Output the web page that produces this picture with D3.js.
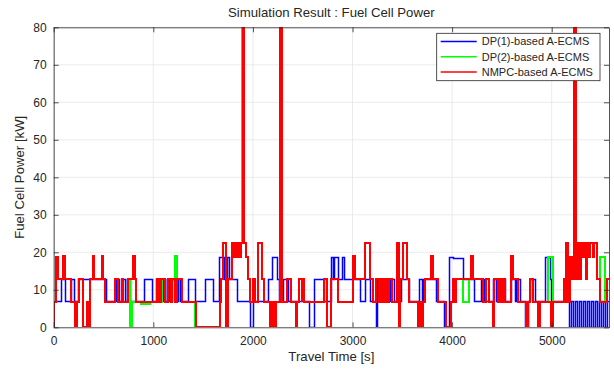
<!DOCTYPE html>
<html>
<head>
<meta charset="utf-8">
<script src="https://cdn.jsdelivr.net/npm/d3@7"></script>
<style>
  body { margin: 0; background: #fff; }
  svg text { font-family: "Liberation Sans", Arial, Helvetica, sans-serif; fill: #262626; }
</style>
</head>
<body>
<svg id="chart" width="614" height="371"></svg>
<script>
// Fuel cell power traces: [time s, power kW], each value held until the next time.
const dp1Steps = [[0,7],[70,12.8],[110,7],[170,12.8],[205,7],[240,12.8],[525,7],[625,12.8],[653,7],[685,12.8],[720,7],[735,12.8],[767,7],[910,12.8],[985,7],[1028,12.8],[1065,7],[1095,12.8],[1115,7],[1137,12.8],[1160,7],[1185,12.8],[1220,7],[1250,12.8],[1265,7],[1350,12.8],[1422,7],[1523,12.8],[1596,7],[1663,18.8],[1712,12.8],[1740,18.8],[1757,12.8],[1838,7],[1975,0],[2005,7],[2150,12.8],[2189,18.8],[2245,12.8],[2265,7],[2300,12.8],[2350,7],[2565,0],[2614,12.8],[2714,7],[2782,18.8],[2800,12.8],[2815,18.8],[2850,12.8],[2899,18.8],[2915,12.8],[3076,7],[3126,12.8],[3180,7],[3237,0],[3250,12.8],[3280,7],[3295,12.8],[3320,7],[3340,12.8],[3375,7],[3390,12.8],[3420,7],[3487,12.8],[3571,7],[3671,12.8],[3700,7],[3710,12.8],[3839,7],[3922,0],[3973,18.8],[4006,18.4],[4107,12.8],[4224,7],[4290,12.8],[4320,7],[4408,12.8],[4441,7],[4461,12.8],[4480,7],[4495,12.8],[4528,7],[4595,12.8],[4628,7],[4645,12.8],[4679,7],[4729,0],[4763,7],[4779,12.8],[4829,7],[4930,18.8],[4980,12.8],[4997,7],[5170,0],[5192,7],[5210,0],[5232,7],[5250,0],[5272,7],[5290,0],[5312,7],[5330,0],[5352,7],[5370,0],[5392,7],[5410,0],[5432,7],[5450,0],[5472,7],[5490,0],[5512,7],[5530,0],[5552,7],[5575,7]];

const dp2Steps = [[0,0],[5,6.8],[25,18.8],[42,13],[90,19],[113,13],[175,6.8],[214,0],[231,6.8],[251,13],[298,0],[365,13],[392,19],[409,13],[482,19],[499,13],[516,6.8],[616,13],[650,6.8],[683,13],[700,6.8],[750,13],[767,0],[784,6.8],[880,6.3],[965,6.8],[1035,13],[1069,6.8],[1085,13],[1120,6.8],[1147,13],[1175,6.8],[1190,13],[1215,6.8],[1222,19],[1235,13],[1290,6.8],[1420,0],[1665,6.8],[1680,13],[1700,22.4],[1730,0],[1745,13],[1790,22.4],[1800,18.8],[1810,22.4],[1820,18.8],[1830,22.4],[1845,18.8],[1855,22.4],[1868,18.8],[1880,22.4],[1895,100],[1910,22.4],[1930,18.8],[1950,13],[1975,6.8],[2000,13],[2020,6.8],[2056,22.4],[2090,13],[2110,6.8],[2175,0],[2185,6.8],[2200,0],[2212,6.8],[2222,0],[2232,6.8],[2272,100],[2290,6.8],[2345,13],[2380,6.8],[2430,0],[2447,6.8],[2463,13],[2490,6.8],[2497,13],[2513,6.8],[2715,13],[2745,0],[2780,13],[2850,6.8],[3000,19],[3020,13],[3126,22.4],[3176,13],[3205,6.8],[3240,13],[3268,6.8],[3285,13],[3310,6.8],[3325,13],[3350,6.8],[3365,13],[3400,6.8],[3447,22.4],[3463,0],[3477,13],[3510,22.4],[3544,13],[3571,6.8],[3654,0],[3671,6.8],[3688,0],[3705,6.8],[3730,13],[3788,19],[3805,13],[3855,6.8],[3939,0],[3989,6.8],[4010,13],[4020,6.8],[4040,13],[4113,6.8],[4173,13],[4190,19],[4207,13],[4308,6.8],[4341,13],[4375,6.8],[4408,0],[4425,13],[4461,6.8],[4480,13],[4495,6.8],[4510,13],[4528,6.8],[4595,19],[4612,13],[4660,6.8],[4746,0],[4763,6.8],[4779,13],[4812,6.8],[4863,0],[4880,6.8],[4964,18.8],[5014,6.8],[5120,13],[5135,6.8],[5148,22.4],[5165,6.8],[5180,18.8],[5200,13],[5228,100],[5248,13],[5262,22.4],[5280,13],[5292,22.4],[5310,18.8],[5322,22.4],[5340,13],[5352,22.4],[5375,18.8],[5385,22.4],[5410,18.8],[5420,22.4],[5452,13],[5486,18.8],[5536,6.8],[5550,13],[5575,13]];

const nmpcSteps = [[0,0],[5,6.8],[25,18.8],[42,13],[90,19],[113,13],[175,6.8],[214,0],[231,6.8],[251,13],[298,0],[332,6.8],[342,0],[365,13],[392,19],[409,13],[482,19],[499,13],[516,6.8],[616,13],[650,6.8],[683,13],[700,6.8],[750,13],[794,19],[814,13],[827,6.8],[1035,13],[1060,6.8],[1075,13],[1120,6.8],[1147,13],[1175,6.8],[1190,13],[1215,6.8],[1238,13],[1290,6.8],[1432,0],[1665,6.8],[1680,13],[1700,22.4],[1730,0],[1745,13],[1790,22.4],[1800,18.8],[1810,22.4],[1820,18.8],[1830,22.4],[1845,18.8],[1855,22.4],[1868,18.8],[1880,22.4],[1898,100],[1914,22.4],[1930,18.8],[1950,13],[1975,6.8],[2000,13],[2020,6.8],[2056,22.4],[2090,13],[2110,6.8],[2175,0],[2185,6.8],[2200,0],[2212,6.8],[2222,0],[2232,6.8],[2272,100],[2290,6.8],[2345,13],[2380,6.8],[2430,0],[2447,6.8],[2463,13],[2490,6.8],[2497,13],[2513,6.8],[2715,13],[2745,0],[2780,13],[2850,6.8],[3000,19],[3020,13],[3126,22.4],[3176,13],[3205,6.8],[3240,13],[3268,6.8],[3285,13],[3310,6.8],[3325,13],[3350,6.8],[3365,13],[3400,6.8],[3447,22.4],[3463,0],[3477,13],[3510,22.4],[3544,13],[3571,6.8],[3654,0],[3671,6.8],[3688,0],[3705,6.8],[3730,13],[3788,19],[3805,13],[3855,6.8],[3939,0],[3989,6.8],[4010,13],[4020,6.8],[4040,13],[4190,19],[4207,13],[4308,6.8],[4341,13],[4375,6.8],[4408,0],[4425,13],[4461,6.8],[4480,13],[4495,6.8],[4510,13],[4528,6.8],[4595,19],[4612,13],[4660,6.8],[4746,0],[4763,6.8],[4779,13],[4812,6.8],[4863,0],[4880,6.8],[4997,0],[5014,6.8],[5120,13],[5135,6.8],[5148,22.4],[5165,6.8],[5180,18.8],[5200,13],[5228,100],[5248,13],[5262,22.4],[5280,13],[5292,22.4],[5310,18.8],[5322,22.4],[5340,13],[5352,22.4],[5375,18.8],[5385,22.4],[5410,18.8],[5420,22.4],[5452,13],[5486,6.8],[5550,13],[5575,13]];

const seriesNames = ["DP(1)-based A-ECMS", "DP(2)-based A-ECMS", "NMPC-based A-ECMS"];
const seriesColors = ["#0000ff", "#00ff00", "#ff0000"];
const xTicks = [0, 1000, 2000, 3000, 4000, 5000];
const yTicks = [0, 10, 20, 30, 40, 50, 60, 70, 80];
const xDomain = [0, 5575];
const yDomain = [0, 80];

const svg = d3.select("#chart");
const W = 614, H = 371;
const plot = { left: 53.7, right: 609, top: 27.3, bottom: 327.3 };

svg.append("rect").attr("width", W).attr("height", H).attr("fill", "#fff");

const x = d3.scaleLinear().domain(xDomain).range([plot.left, plot.right]);
const y = d3.scaleLinear().domain(yDomain).range([plot.bottom, plot.top]);

// grid
const grid = svg.append("g").attr("stroke", "#e3e3e3").attr("stroke-width", 0.7);
grid.selectAll(".gx").data(xTicks).join("line")
  .attr("x1", d => x(d)).attr("x2", d => x(d))
  .attr("y1", plot.top).attr("y2", plot.bottom);
grid.selectAll(".gy").data(yTicks).join("line")
  .attr("x1", plot.left).attr("x2", plot.right)
  .attr("y1", d => y(d)).attr("y2", d => y(d));

// traces, clipped to the axes box. The two traces that overlap (DP(2), NMPC)
// snap to whole pixels with 2px strokes so the upper one fully hides the lower;
// DP(1) uses a 1.5px stroke on pixel centres so its fast pulses stay separated.
svg.append("clipPath").attr("id", "plotClip").append("rect")
  .attr("x", Math.round(plot.left)).attr("y", Math.round(plot.top))
  .attr("width", Math.round(plot.right) - Math.round(plot.left))
  .attr("height", Math.round(plot.bottom) - Math.round(plot.top));

const traceStyle = [
  { offset: 0.5, width: 1.5 },
  { offset: 0, width: 2 },
  { offset: 0, width: 2 }
];
const traces = svg.append("g").attr("clip-path", "url(#plotClip)");
[dp1Steps, dp2Steps, nmpcSteps].forEach((s, i) => {
  const o = traceStyle[i].offset;
  const line = d3.line()
    .x(d => Math.round(x(d[0])) + o)
    .y(d => Math.round(y(Math.min(d[1], 90))) + o)
    .curve(d3.curveStepAfter);
  traces.append("path").datum(s)
    .attr("d", line)
    .attr("fill", "none")
    .attr("stroke", seriesColors[i])
    .attr("stroke-width", traceStyle[i].width)
    .attr("stroke-linejoin", "miter");
});

// axes with inward ticks on all four sides
const axisColor = "#262626";
const fmt = d3.format("d");
function styleAxis(g) {
  g.select(".domain").attr("stroke", axisColor).attr("stroke-width", 0.8);
  g.selectAll(".tick line").attr("stroke", axisColor).attr("stroke-width", 0.8);
  g.selectAll(".tick text").attr("fill", axisColor).style("font-size", "12px")
    .style("font-family", '"Liberation Sans", Arial, sans-serif');
}
svg.append("g").attr("transform", `translate(0,${plot.bottom})`)
  .call(d3.axisBottom(x).tickValues(xTicks).tickFormat(fmt).tickSizeInner(-5).tickSizeOuter(0).tickPadding(9))
  .call(styleAxis);
svg.append("g").attr("transform", `translate(0,${plot.top})`)
  .call(d3.axisTop(x).tickValues(xTicks).tickSizeInner(-5).tickSizeOuter(0).tickFormat(""))
  .call(styleAxis);
svg.append("g").attr("transform", `translate(${plot.left},0)`)
  .call(d3.axisLeft(y).tickValues(yTicks).tickFormat(fmt).tickSizeInner(-5).tickSizeOuter(0).tickPadding(7))
  .call(styleAxis);
svg.append("g").attr("transform", `translate(${plot.right},0)`)
  .call(d3.axisRight(y).tickValues(yTicks).tickSizeInner(-5).tickSizeOuter(0).tickFormat(""))
  .call(styleAxis);

// titles
const cx = (plot.left + plot.right) / 2;
svg.append("text").attr("x", cx).attr("y", 17).attr("text-anchor", "middle")
  .style("font-size", "13.2px").text("Simulation Result : Fuel Cell Power");
svg.append("text").attr("x", cx).attr("y", 361).attr("text-anchor", "middle")
  .style("font-size", "13.2px").text("Travel Time [s]");
svg.append("text").attr("transform", `translate(24,${(plot.top + plot.bottom) / 2}) rotate(-90)`)
  .attr("text-anchor", "middle").style("font-size", "13.2px").text("Fuel Cell Power [kW]");

// legend
const lg = svg.append("g");
lg.append("rect").attr("x", 436.7).attr("y", 33.3).attr("width", 163.3).attr("height", 47.4)
  .attr("fill", "#fff").attr("stroke", axisColor).attr("stroke-width", 0.8);
seriesNames.forEach((name, i) => {
  const ly = 41.5 + i * 15.3;
  lg.append("line").attr("x1", 440.7).attr("x2", 476.7).attr("y1", ly).attr("y2", ly)
    .attr("stroke", seriesColors[i]).attr("stroke-width", 1.5);
  lg.append("text").attr("x", 481.7).attr("y", ly).attr("dy", "0.35em")
    .style("font-size", "11px").text(name);
});
</script>
</body>
</html>
